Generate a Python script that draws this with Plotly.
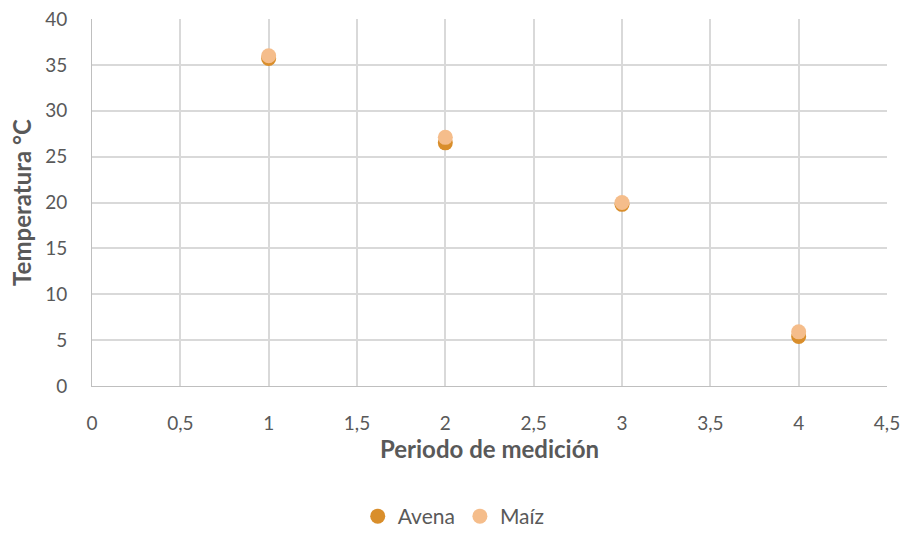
import plotly.graph_objects as go

periodos = [1, 2, 3, 4]
avena = [35.7, 26.5, 19.8, 5.4]
maiz = [36.0, 27.1, 20.0, 5.9]

x_ticks = [0, 0.5, 1, 1.5, 2, 2.5, 3, 3.5, 4, 4.5]
x_tick_text = ["0", "0,5", "1", "1,5", "2", "2,5", "3", "3,5", "4", "4,5"]
y_ticks = [0, 5, 10, 15, 20, 25, 30, 35, 40]

font_family = "Lato, Open Sans, sans-serif"
text_color = "#595959"
grid_color = "#D9D9D9"

fig = go.Figure()
fig.add_trace(go.Scatter(
    x=periodos, y=avena, mode="markers", name="Avena",
    marker=dict(size=15, color="#D98E2B", line=dict(width=0)),
))
fig.add_trace(go.Scatter(
    x=periodos, y=maiz, mode="markers", name="Maíz",
    marker=dict(size=15, color="#F5BD8B", line=dict(width=0)),
))

fig.update_layout(
    width=906, height=537,
    margin=dict(l=92, r=19, t=19, b=151, autoexpand=False),
    paper_bgcolor="white", plot_bgcolor="white",
    font=dict(family=font_family, size=19, color=text_color),
    showlegend=True,
    legend=dict(
        orientation="h", x=0.455, xanchor="center", y=-0.4114, yanchor="bottom",
        font=dict(size=21, color=text_color), itemsizing="trace",
        itemwidth=30, tracegroupgap=0,
    ),
    xaxis=dict(
        range=[0, 4.5], tickvals=x_ticks, ticktext=x_tick_text,
        showgrid=True, gridcolor=grid_color, gridwidth=1.5,
        zeroline=False, showline=True, linecolor="#BFBFBF", linewidth=1,
        ticks="", ticklen=0, ticklabelstandoff=20, automargin=False,
        title=dict(text="<b>Periodo de medición</b>", font=dict(size=24, color=text_color), standoff=6),
    ),
    yaxis=dict(
        range=[0, 40], tickvals=y_ticks,
        showgrid=True, gridcolor=grid_color, gridwidth=1.5,
        zeroline=False, showline=True, linecolor="#BFBFBF", linewidth=1,
        ticks="", ticklen=0, ticklabelstandoff=20, automargin=False,
        title=dict(text="<b>Temperatura °C</b>", font=dict(size=24, color=text_color), standoff=6),
    ),
)

fig.write_html("out.html")
